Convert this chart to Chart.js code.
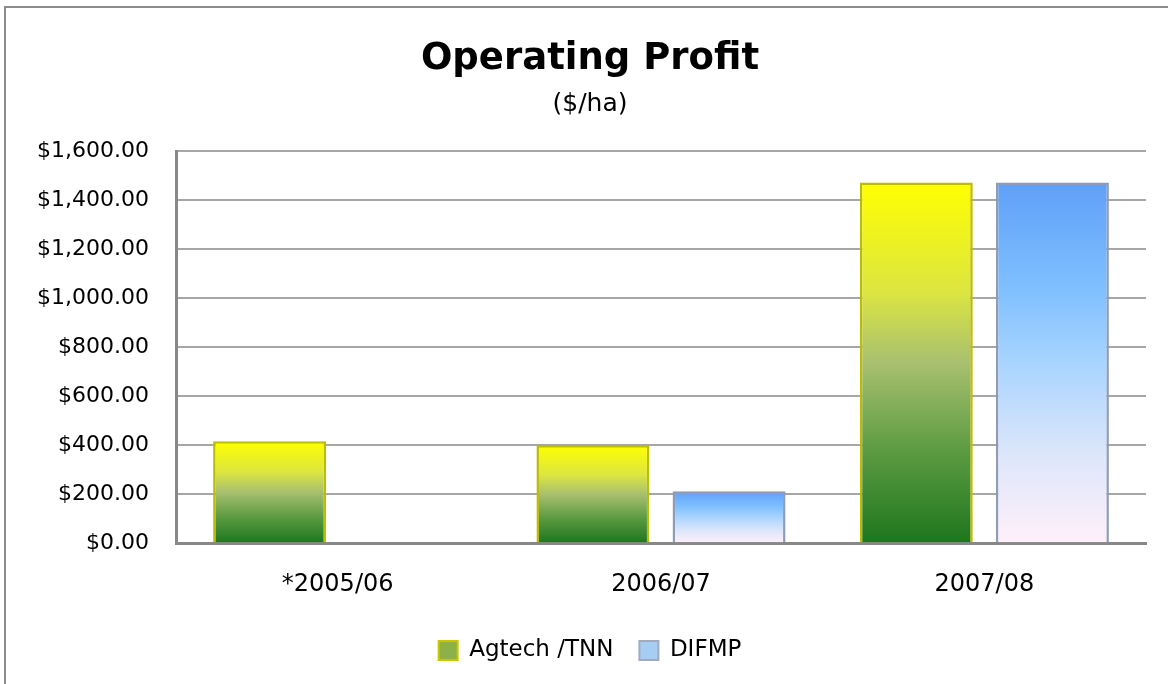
<!DOCTYPE html>
<html>
<head>
<meta charset="utf-8">
<script src="https://cdn.jsdelivr.net/npm/chart.js@4"></script>
<style>
  html, body { margin: 0; padding: 0; background: #fff; }
  #wrap { position: relative; width: 1168px; height: 684px; overflow: hidden; }
  #frame { position: absolute; left: 4px; top: 6px; width: 1200px; height: 720px; border: 2px solid #8c8c8c; box-sizing: border-box; }
  canvas { position: absolute; left: 0; top: 0; }
</style>
</head>
<body>
<div id="wrap">
  <div id="frame"></div>
  <canvas id="chart" width="1168" height="684"></canvas>
</div>
<script>
const categories = ['*2005/06', '2006/07', '2007/08'];
const agtechTnn = [416, 400, 1473];
const difmp = [null, 212, 1473];

const font = '"DejaVu Sans", sans-serif';

// vertical gradient per bar, from its top down to the zero line
function barGradient(stops) {
  return ctx => {
    const chart = ctx.chart;
    const y = chart.scales.y;
    if (!y || ctx.raw == null) return stops[0][1];
    const top = y.getPixelForValue(ctx.raw);
    const base = y.getPixelForValue(0);
    const g = chart.ctx.createLinearGradient(0, top, 0, base);
    stops.forEach(([p, c]) => g.addColorStop(p, c));
    return g;
  };
}

const greenStops = [[0, '#ffff00'], [0.3, '#dce640'], [0.5, '#a8c070'], [0.75, '#5a9a40'], [1, '#1e761e']];
const blueStops = [[0, '#5ea0f8'], [0.3, '#80c0ff'], [0.5, '#a8d4ff'], [0.75, '#dce6fa'], [1, '#fff0fa']];

new Chart(document.getElementById('chart'), {
  type: 'bar',
  data: {
    labels: categories,
    datasets: [
      {
        label: 'Agtech /TNN', data: agtechTnn,
        backgroundColor: barGradient(greenStops),
        borderColor: '#bcbc00', borderWidth: 2.5,
      },
      {
        label: 'DIFMP', data: difmp,
        backgroundColor: barGradient(blueStops),
        borderColor: '#8e9cb8', borderWidth: 2.5,
      },
    ],
  },
  options: {
    responsive: false,
    animation: false,
    categoryPercentage: 0.842,
    barPercentage: 0.83,
    // title and legend are centred a bit right of the plot, as in the original
    layout: { padding: { left: 34, right: 22, bottom: 12 } },
    plugins: {
      title: {
        display: true, text: 'Operating Profit', color: '#000',
        font: { family: font, size: 37, weight: 'bold', lineHeight: 1.2 },
        padding: { top: 37, bottom: 0 },
      },
      subtitle: {
        display: true, text: '($/ha)', color: '#000',
        font: { family: font, size: 25, lineHeight: 1.2 },
        padding: { top: 8, bottom: 32 },
      },
      legend: {
        position: 'bottom',
        labels: {
          color: '#000', font: { family: font, size: 23 },
          boxWidth: 19, boxHeight: 19, padding: 26,
          generateLabels: chart => chart.data.datasets.map((d, i) => ({
            text: d.label,
            fillStyle: i === 0 ? '#8cb04a' : '#a6cdf4',
            strokeStyle: i === 0 ? '#c8c800' : '#a0aac0',
            lineWidth: 2,
            datasetIndex: i,
          })),
        },
      },
      tooltip: { enabled: false },
    },
    scales: {
      x: {
        afterFit: scale => { scale.height -= 13; },
        grid: { display: false, drawTicks: false },
        border: { display: true, color: '#888', width: 3 },
        ticks: { color: '#000', font: { family: font, size: 24 }, padding: 27 },
      },
      y: {
        min: 0, max: 1600,
        afterFit: scale => { scale.width = 142; },
        grid: { color: '#a6a6a6', lineWidth: 2, drawTicks: false },
        border: { display: true, color: '#888', width: 3 },
        ticks: {
          stepSize: 200, color: '#000', padding: 27,
          font: { family: font, size: 22 },
          callback: v => '$' + v.toLocaleString('en-US', { minimumFractionDigits: 2, maximumFractionDigits: 2 }),
        },
      },
    },
  },
});
</script>
</body>
</html>
